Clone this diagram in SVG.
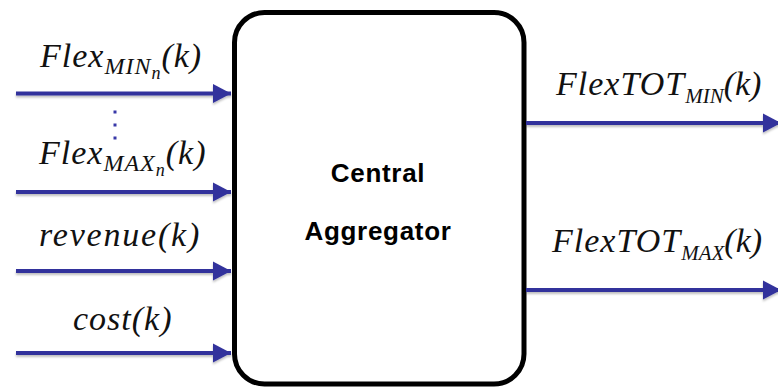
<svg xmlns="http://www.w3.org/2000/svg" width="778" height="387" viewBox="0 0 778 387">
  <style>
    .m { font-family: "Liberation Serif", "Times New Roman", serif; font-style: italic; font-size: 34px; fill: #111; letter-spacing: 1px; }
    .r { letter-spacing: 1px; }
    .sub { font-size: 24px; }
    .rsub { font-size: 21px; letter-spacing: 0; }
    .sub2 { font-size: 18px; }
    .box { fill: #fff; stroke: #000; stroke-width: 5; }
    .title { font-family: "Liberation Sans", Arial, sans-serif; font-weight: bold; font-size: 26px; fill: #000; text-anchor: middle; letter-spacing: 0.7px; }
    .wire { stroke: #33339c; stroke-width: 4; fill: none; }
    .dot { fill: #3838a8; }
  </style>
  <defs>
    <marker id="head" markerUnits="userSpaceOnUse" markerWidth="18" markerHeight="20" refX="18" refY="10" orient="auto" viewBox="0 0 18 20">
      <path d="M0,0.5 L18,10 L0,19.5 Z" fill="#33339c"/>
    </marker>
    <filter id="shadow" x="-5%" y="-50%" width="110%" height="300%">
      <feDropShadow dx="0" dy="2" stdDeviation="1.2" flood-color="#000" flood-opacity="0.25"/>
    </filter>
  </defs>

  <!-- aggregator block -->
  <g id="aggregator">
    <rect class="box" x="234.5" y="12.5" width="289.5" height="371.5" rx="30" ry="30"/>
    <text class="title" x="378" y="182">Central</text>
    <text class="title" x="378" y="240">Aggregator</text>
  </g>

  <!-- input and output signals -->
  <g id="connectors" filter="url(#shadow)">
    <line class="wire" x1="16" y1="93.5" x2="231" y2="93.5" marker-end="url(#head)"/>
    <line class="wire" x1="16" y1="192" x2="231" y2="192" marker-end="url(#head)"/>
    <line class="wire" x1="16" y1="271" x2="231" y2="271" marker-end="url(#head)"/>
    <line class="wire" x1="16" y1="353" x2="231" y2="353" marker-end="url(#head)"/>
    <line class="wire" x1="526" y1="123" x2="781" y2="123" marker-end="url(#head)"/>
    <line class="wire" x1="526" y1="290" x2="781" y2="290" marker-end="url(#head)"/>
  </g>

  <!-- ellipsis between the first and last flexibility inputs -->
  <g id="ellipsis">
    <rect class="dot" x="113.5" y="110.5" width="3" height="3"/>
    <rect class="dot" x="113.5" y="123.5" width="3" height="3"/>
    <rect class="dot" x="113.5" y="136.5" width="3" height="3"/>
  </g>

  <!-- signal labels -->
  <g id="label-flex-min">
    <text class="m" x="40" y="67">Flex<tspan class="sub" dy="7">MIN</tspan><tspan class="sub2" dy="5">n</tspan><tspan dy="-12">(k)</tspan></text>
  </g>
  <g id="label-flex-max">
    <text class="m" x="39" y="164">Flex<tspan class="sub" dy="7">MAX</tspan><tspan class="sub2" dy="5">n</tspan><tspan dy="-12">(k)</tspan></text>
  </g>
  <g id="label-revenue">
    <text class="m" x="39" y="246" style="letter-spacing:1.8px">revenue(k)</text>
  </g>
  <g id="label-cost">
    <text class="m" x="73" y="330">cost(k)</text>
  </g>
  <g id="label-flextot-min">
    <text class="m r" x="556" y="95">FlexTOT<tspan class="rsub" dy="8">MIN</tspan><tspan dy="-8" style="letter-spacing:0">(k)</tspan></text>
  </g>
  <g id="label-flextot-max">
    <text class="m r" x="552" y="252">FlexTOT<tspan class="rsub" dy="8">MAX</tspan><tspan dy="-8" style="letter-spacing:0">(k)</tspan></text>
  </g>
</svg>
